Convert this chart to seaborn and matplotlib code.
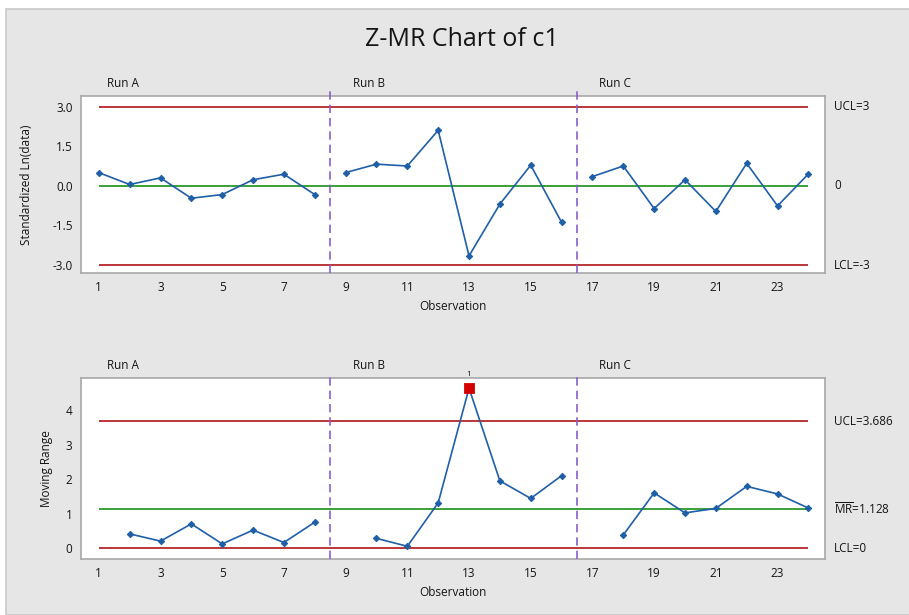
import numpy as np
import pandas as pd
import matplotlib
matplotlib.use("Agg")
import matplotlib.pyplot as plt
import matplotlib.transforms as mtransforms
from matplotlib.patches import Rectangle
import seaborn as sns

# data
obs = list(range(1, 25))
runs = ["A"] * 8 + ["B"] * 8 + ["C"] * 8
z_values = [0.50, 0.05, 0.30, -0.47, -0.33, 0.23, 0.44, -0.33,
            0.50, 0.82, 0.75, 2.10, -2.65, -0.69, 0.78, -1.38,
            0.35, 0.75, -0.86, 0.23, -0.97, 0.85, -0.76, 0.45]
mr_values = [np.nan, 0.41, 0.20, 0.70, 0.12, 0.52, 0.16, 0.75,
             np.nan, 0.28, 0.05, 1.31, 4.64, 1.95, 1.44, 2.10,
             np.nan, 0.38, 1.60, 1.02, 1.15, 1.79, 1.57, 1.16]
run_labels = ["Run A", "Run B", "Run C"]
run_label_x = [1.25, 9.25, 17.2]
run_breaks = [8.5, 16.5]
xticks = list(range(1, 25, 2))

z_limits = {"UCL=3": 3.0, "0": 0.0, "LCL=-3": -3.0}
mr_limits = {"UCL=3.686": 3.686, r"$\overline{\mathrm{MR}}$=1.128": 1.128, "LCL=0": 0.0}
flagged_obs = 13

df = pd.DataFrame({"obs": obs, "run": runs, "z": z_values, "mr": mr_values})

sns.set_style("white")
plt.rcParams["font.family"] = ["Open Sans", "DejaVu Sans"]
plt.rcParams["mathtext.fontset"] = "custom"
plt.rcParams["mathtext.rm"] = "Open Sans"

BG = "#e6e6e6"
BLUE = "#1f5fa8"
RED = "#b5262b"
GREEN = "#2a9a2a"
PURPLE = "#8a5fd0"
TXT = "#151515"

fig = plt.figure(figsize=(9.09, 6.15), dpi=100, facecolor="white")
fig.patches.append(Rectangle((6 / 909, 0), 1, 1 - 9 / 615, transform=fig.transFigure,
                             facecolor=BG, edgecolor="#c8c8c8", linewidth=1.2, zorder=-1))

ax1 = fig.add_axes([0.089, 0.556, 0.819, 0.288])
ax2 = fig.add_axes([0.089, 0.091, 0.819, 0.294])

fig.text(0.508, 0.935, "Z-MR Chart of c1", ha="center", va="center", fontsize=18, color=TXT)


def style_axes(ax, limits, ylim, yticks, yticklabels, ylabel, ylabel_x):
    ax.set_facecolor("white")
    ax.set_xlim(0.42, 24.55)
    ax.set_ylim(*ylim)
    ax.set_xticks(xticks)
    ax.set_yticks(yticks)
    ax.set_yticklabels(yticklabels)
    for s in ax.spines.values():
        s.set_color("#a8a8a8")
        s.set_linewidth(1.2)
    ax.tick_params(axis="both", direction="out", length=3, width=1, color="#a8a8a8",
                   labelsize=8.5, labelcolor=TXT, pad=3)
    ax.set_xlabel("Observation", fontsize=8.5, color=TXT, labelpad=4)
    ax.set_ylabel(ylabel, fontsize=8.5, color=TXT)
    ax.yaxis.set_label_coords(ylabel_x, 0.5)

    # control limits
    for i, (lab, val) in enumerate(limits.items()):
        c = GREEN if i == 1 else RED
        ax.hlines(val, obs[0], obs[-1], color=c, linewidth=1.3, zorder=2)
        tr = mtransforms.blended_transform_factory(ax.transAxes, ax.transData)
        ax.text(1.012, val, lab, transform=tr, ha="left", va="center", fontsize=8.5, color=TXT)

    # run separators and labels
    for b in run_breaks:
        ax.axvline(b, ymin=0, ymax=1.03, color=PURPLE, linestyle=(0, (5, 3)),
                   linewidth=1.2, clip_on=False, zorder=3)
    tr = mtransforms.blended_transform_factory(ax.transData, ax.transAxes)
    for lab, x in zip(run_labels, run_label_x):
        ax.text(x, 1.07, lab, transform=tr, ha="left", va="center", fontsize=8.5, color=TXT)


sns.lineplot(data=df, x="obs", y="z", units="run", estimator=None, ax=ax1,
             color=BLUE, linewidth=1.2, marker="D", markersize=3.2,
             markeredgecolor=BLUE, zorder=4)
sns.lineplot(data=df, x="obs", y="mr", units="run", estimator=None, ax=ax2,
             color=BLUE, linewidth=1.2, marker="D", markersize=3.2,
             markeredgecolor=BLUE, zorder=4)

# out-of-control point
flag = df[df["obs"] == flagged_obs]
sns.scatterplot(data=flag, x="obs", y="mr", ax=ax2, marker="s", s=55,
                color="#d40000", edgecolor="#d40000", zorder=5, legend=False)

style_axes(ax1, z_limits, (-3.3, 3.4), [3, 1.5, 0, -1.5, -3],
           ["3.0", "1.5", "0.0", "-1.5", "-3.0"], "Standardized Ln(data)", -0.064)
style_axes(ax2, mr_limits, (-0.32, 4.93), [0, 1, 2, 3, 4],
           ["0", "1", "2", "3", "4"], "Moving Range", -0.037)

ax2.text(flagged_obs, ax2.get_ylim()[1], "1", ha="center", va="bottom", fontsize=6, color=TXT)

fig.savefig("out.png", dpi=100, facecolor=fig.get_facecolor())
